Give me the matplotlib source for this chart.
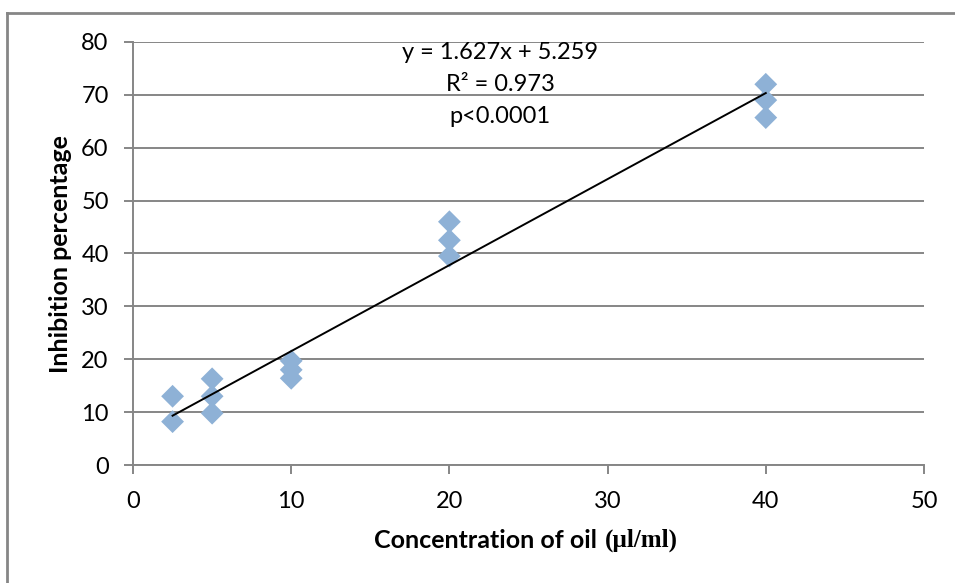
import matplotlib.pyplot as plt
from matplotlib.lines import Line2D

# data
conc = [2.5, 2.5, 5, 5, 5, 10, 10, 10, 20, 20, 20, 40, 40, 40]
inhibition = [13.0, 8.2, 16.3, 13.0, 9.8, 19.7, 18.0, 16.4, 46.0, 42.5, 39.5, 72.0, 69.0, 65.7]

# trendline as reported on the chart
slope = 1.627
intercept = 5.259
fit_x = [min(conc), max(conc)]
fit_y = [slope * x + intercept for x in fit_x]

x_ticks = [0, 10, 20, 30, 40, 50]
y_ticks = [0, 10, 20, 30, 40, 50, 60, 70, 80]
annot = ["y = 1.627x + 5.259", "R² = 0.973", "p<0.0001"]

plt.rcParams["font.family"] = ["Lato", "DejaVu Sans"]
grey = "#868686"

fig = plt.figure(figsize=(9.55, 5.83), dpi=100)
ax = fig.add_axes([0.1393, 0.2024, 0.8282, 0.7256])

# horizontal gridlines
ax.set_axisbelow(True)
ax.yaxis.grid(True, color=grey, linewidth=1.4)

ax.scatter(conc, inhibition, marker="D", s=135, color="#8EB1D6",
           edgecolors="none", zorder=3)
ax.plot(fit_x, fit_y, color="black", linewidth=1.4, zorder=4)

ax.set_xlim(0, 50)
ax.set_ylim(0, 80)
ax.set_xticks(x_ticks)
ax.set_yticks(y_ticks)
ax.tick_params(axis="both", colors=grey, labelcolor="black", labelsize=17,
               length=6.5, width=1.4)
ax.tick_params(axis="y", pad=11)
ax.tick_params(axis="x", pad=12)

for side in ["top", "right"]:
    ax.spines[side].set_visible(False)
for side in ["left", "bottom"]:
    ax.spines[side].set_color(grey)
    ax.spines[side].set_linewidth(1.4)

# regression text
for label, y in zip(annot, [78.1, 72.0, 66.0]):
    ax.text(23.2, y, label, ha="center", va="center", fontsize=17)

# axis titles
fig.text(0.063, 0.564, "Inhibition percentage", rotation=90, ha="center",
         va="center", fontsize=18, fontweight="bold")
fig.text(597 / 955, 1 - 540 / 583, "Concentration of oil", ha="right",
         va="center", fontsize=18, fontweight="bold")
fig.text(605 / 955, 1 - 540 / 583, "(µl/ml)", ha="left", va="center",
         fontsize=18, fontweight="bold", family="Liberation Serif")

# partial chart-area border
fig.add_artist(Line2D([7 / 955, 7 / 955], [0, 1 - 13 / 583], color=grey,
                      linewidth=2, transform=fig.transFigure))
fig.add_artist(Line2D([7 / 955, 1], [1 - 13 / 583, 1 - 13 / 583],
                      color=grey, linewidth=2, transform=fig.transFigure))

fig.savefig("out.png", dpi=100)
